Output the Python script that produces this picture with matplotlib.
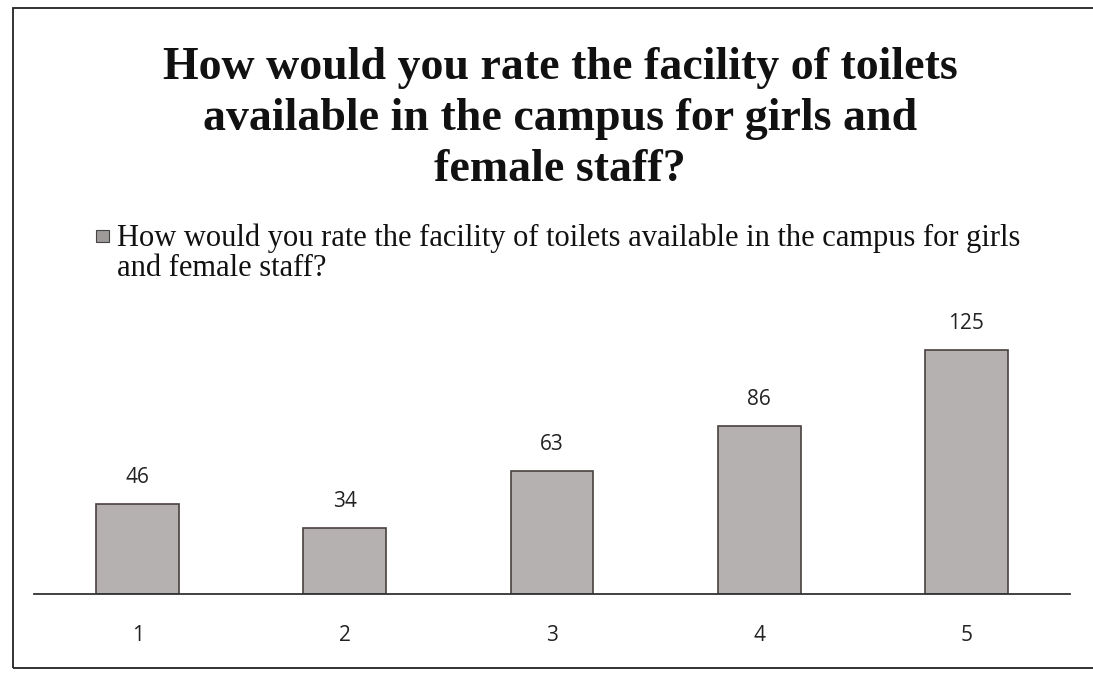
import matplotlib.pyplot as plt
from matplotlib.patches import Rectangle

categories = ["1", "2", "3", "4", "5"]
values = [46, 34, 63, 86, 125]
title = "How would you rate the facility of toilets\navailable in the campus for girls and\nfemale staff?"
series_name = "How would you rate the facility of toilets available in the campus for girls\nand female staff?"

W, H = 1093, 679
fig = plt.figure(figsize=(W / 100, H / 100), dpi=100)

# outer frame of the scanned chart
fig.add_artist(Rectangle((13 / W, 1 - 668 / H), 1.0, (668 - 8) / H,
                         transform=fig.transFigure, fill=False,
                         edgecolor="#222222", linewidth=1.3))

fig.text(560 / W, 1 - 119 / H, title, ha="center", va="center",
         family="Liberation Serif", fontweight="bold", fontsize=33,
         linespacing=1.28, color="#111111")

# legend drawn by hand (wrapped text)
fig.add_artist(Rectangle((96 / W, 1 - 242 / H), 13 / W, 12 / H,
                         transform=fig.transFigure, facecolor="#9e9a9a",
                         edgecolor="#444444", linewidth=0.8))
fig.text(117 / W, 1 - 224 / H, series_name, ha="left", va="top",
         family="Liberation Serif", fontsize=22, linespacing=1.03,
         color="#111111")

ax = fig.add_axes([34 / W, 1 - 594 / H, 1036 / W, 264 / H])
x = range(1, len(values) + 1)
bars = ax.bar(x, values, width=0.4, color="#b5b1b1",
              edgecolor="#4a4040", linewidth=1.2)
for b, v in zip(bars, values):
    ax.text(b.get_x() + b.get_width() / 2, v + 8, str(v), ha="center",
            va="bottom", family="Open Sans", fontsize=15, color="#222222")

ax.set_xlim(0.5, 5.5)
ax.set_ylim(0, 135)
ax.set_xticks(list(x))
ax.set_xticklabels(categories, family="Open Sans", fontsize=15, color="#222222")
ax.tick_params(axis="x", length=0, pad=22)
ax.set_yticks([])
for s in ["top", "right", "left"]:
    ax.spines[s].set_visible(False)
ax.spines["bottom"].set_color("#333333")
ax.spines["bottom"].set_linewidth(1.3)

fig.savefig("out.png", dpi=100)
